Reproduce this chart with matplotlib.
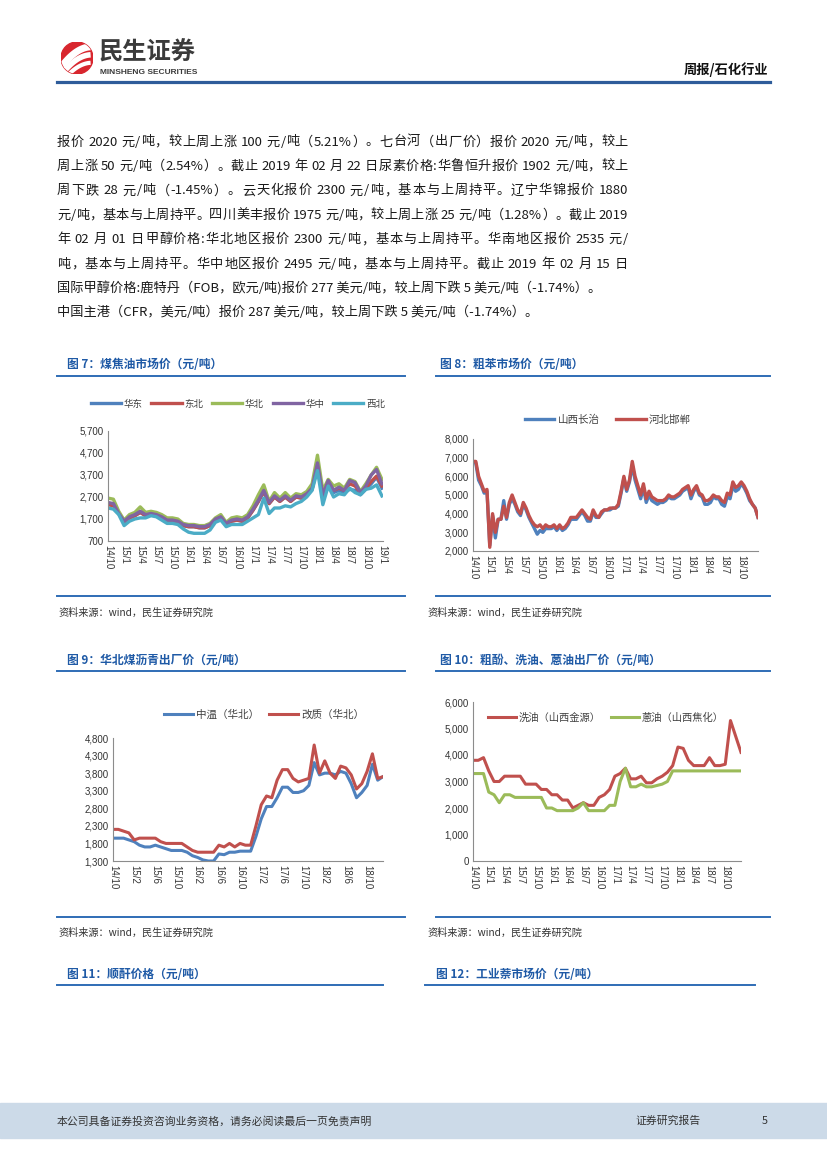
import matplotlib

matplotlib.use("Agg")
import re
import matplotlib.pyplot as plt
import numpy as np
from matplotlib.patches import Rectangle, Circle
from matplotlib.lines import Line2D
from matplotlib.ticker import FuncFormatter

plt.rcParams["font.family"] = ["Noto Sans CJK SC", "DejaVu Sans"]

# ---------------- data ----------------
# fig 7: coal tar market price, monthly from 14/10
tar_labels = ["华东", "东北", "华北", "华中", "西北"]
tar_huadong = [2400, 2350, 1950, 1550, 1750, 1850, 2000, 1850, 1900, 1850, 1750, 1600, 1600,
               1550, 1400, 1350, 1350, 1300, 1300, 1400, 1650, 1750, 1450, 1600, 1650, 1600,
               1750, 2100, 2500, 2950, 2400, 2700, 2500, 2700, 2500, 2700, 2650, 2800, 3050,
               4200, 2700, 3400, 2900, 3000, 2900, 3050, 3000, 2800, 3050, 3300, 3600, 3100]
tar_dongbei = [2350, 2300, 1950, 1550, 1750, 1850, 2000, 1850, 1900, 1850, 1750, 1600, 1600,
               1550, 1400, 1350, 1350, 1300, 1300, 1400, 1650, 1750, 1450, 1600, 1650, 1600,
               1750, 2100, 2500, 2950, 2400, 2700, 2500, 2700, 2500, 2700, 2650, 2800, 3050,
               4100, 2800, 3400, 3000, 3100, 3000, 3300, 3200, 2900, 3100, 3400, 3650, 3200]
tar_huabei = [2650, 2600, 2050, 1650, 1900, 2000, 2250, 2000, 2050, 2000, 1900, 1750, 1750,
              1700, 1500, 1450, 1450, 1400, 1400, 1500, 1750, 1900, 1550, 1750, 1800, 1750,
              1900, 2300, 2800, 3250, 2500, 2900, 2650, 2900, 2650, 2850, 2800, 2950, 3300,
              4600, 3000, 3500, 3200, 3300, 3100, 3500, 3400, 2950, 3300, 3700, 4050, 3500]
tar_huazhong = [2450, 2400, 1950, 1600, 1800, 1900, 2050, 1900, 1950, 1900, 1800, 1650, 1650,
                1600, 1450, 1400, 1400, 1350, 1350, 1450, 1700, 1800, 1500, 1650, 1700, 1650,
                1800, 2150, 2550, 3000, 2450, 2750, 2550, 2750, 2550, 2750, 2700, 2850, 3100,
                4250, 2800, 3450, 3000, 3150, 3000, 3450, 3350, 2900, 3200, 3700, 3950, 3300]
tar_xibei = [2200, 2150, 1900, 1400, 1600, 1700, 1750, 1750, 1850, 1800, 1650, 1500, 1500,
             1450, 1250, 1100, 1050, 1050, 1050, 1200, 1550, 1650, 1350, 1450, 1450, 1450,
             1600, 1750, 1900, 2650, 1950, 2200, 2200, 2300, 2250, 2400, 2500, 2700, 3000,
             3900, 2350, 3200, 2700, 2850, 2800, 3100, 2900, 2800, 3050, 3100, 3250, 2750]
tar_ticks = ["14/10", "15/1", "15/4", "15/7", "15/10", "16/1", "16/4", "16/7", "16/10",
             "17/1", "17/4", "17/7", "17/10", "18/1", "18/4", "18/7", "18/10", "19/1"]

# fig 8: crude benzene, semi-monthly from 14/10
benz_labels = ["山西长治", "河北邯郸"]
benz_changzhi = [6800, 6700, 5800, 5500, 5100, 5200, 2300, 3900, 2700, 3700,
                 3700, 4700, 3700, 4500, 4800, 4500, 4100, 3900, 4500, 4200,
                 3800, 3500, 3200, 2900, 3100, 3000, 3200, 3200, 3200, 3300,
                 3100, 3300, 3100, 3200, 3400, 3700, 3700, 3700, 3900, 4100,
                 3900, 3600, 3600, 4100, 3800, 3800, 4000, 4200, 4200, 4200,
                 4300, 4300, 4400, 5100, 5900, 5200, 5700, 6600, 5800, 5300,
                 4800, 5400, 4600, 5000, 4700, 4600, 4500, 4600, 4600, 4700,
                 4900, 4800, 4800, 4900, 5000, 5200, 5300, 5400, 4800, 5200,
                 5400, 5000, 4900, 4500, 4500, 4600, 4900, 4800, 4800, 4500,
                 4400, 4900, 4800, 5500, 5200, 5300, 5600, 5400, 5100, 4700,
                 4500, 4300, 3800]
benz_handan = [6800, 6800, 6000, 5600, 5200, 5300, 2200, 4000, 3000, 3700,
               3700, 4400, 3800, 4600, 5000, 4600, 4200, 4000, 4600, 4300,
               3900, 3600, 3400, 3300, 3400, 3200, 3400, 3300, 3300, 3400,
               3200, 3400, 3200, 3300, 3500, 3800, 3800, 3800, 4000, 4200,
               4000, 3800, 3700, 4200, 3900, 3800, 4100, 4200, 4200, 4300,
               4300, 4300, 4500, 5200, 6000, 5300, 5800, 6800, 6000, 5500,
               5000, 5600, 4800, 5200, 4900, 4800, 4700, 4700, 4700, 4800,
               5000, 4900, 4900, 5000, 5100, 5300, 5400, 5500, 5000, 5300,
               5500, 5100, 5000, 4700, 4700, 4800, 5000, 4900, 4900, 4700,
               4600, 5100, 5000, 5700, 5400, 5500, 5700, 5500, 5200, 4800,
               4500, 4300, 3800]
benz_ticks = ["14/10", "15/1", "15/4", "15/7", "15/10", "16/1", "16/4", "16/7", "16/10",
              "17/1", "17/4", "17/7", "17/10", "18/1", "18/4", "18/7", "18/10"]

# fig 9: coal pitch, monthly from 14/10
pitch_labels = ["中温（华北）", "改质（华北）"]
pitch_zhongwen = [1950, 1950, 1950, 1900, 1850, 1750, 1700, 1700, 1750, 1700, 1650, 1600, 1600,
                  1600, 1550, 1450, 1400, 1330, 1300, 1300, 1500, 1480, 1550, 1550, 1580, 1580,
                  1580, 2000, 2500, 2850, 2850, 3100, 3400, 3400, 3250, 3250, 3300, 3450, 4100,
                  3750, 3800, 3800, 3750, 3850, 3800, 3500, 3100, 3250, 3450, 4050, 3600, 3700]
pitch_gaizhi = [2200, 2200, 2150, 2100, 1900, 1950, 1950, 1950, 1950, 1850, 1800, 1800, 1800,
                1800, 1700, 1600, 1550, 1550, 1550, 1550, 1750, 1700, 1800, 1700, 1800, 1750,
                1750, 2300, 2900, 3150, 3100, 3600, 3900, 3900, 3650, 3550, 3600, 3650, 4600,
                3800, 4150, 3800, 3650, 4000, 3950, 3750, 3350, 3500, 3850, 4350, 3650, 3700]
pitch_ticks = ["14/10", "15/2", "15/6", "15/10", "16/2", "16/6", "16/10",
               "17/2", "17/6", "17/10", "18/2", "18/6", "18/10"]

# fig 10: wash oil / anthracene oil, monthly from 14/10
oil_labels = ["洗油（山西金源）", "蒽油（山西焦化）"]
oil_xiyou = [3800, 3800, 3900, 3400, 3000, 3000, 3200, 3200, 3200, 3200, 2900, 2900, 2900,
             2700, 2700, 2500, 2500, 2300, 2300, 2000, 2100, 2200, 2100, 2100, 2400, 2500,
             2700, 3200, 3300, 3500, 3100, 3100, 3200, 2950, 2950, 3100, 3200, 3350, 3600,
             4300, 4250, 3800, 3600, 3600, 3600, 3900, 3600, 3600, 3650, 5300, 4700, 4100]
oil_anyou = [3300, 3300, 3300, 2600, 2500, 2200, 2500, 2500, 2400, 2400, 2400, 2400, 2400,
             2400, 2000, 2000, 1900, 1900, 1900, 1900, 2000, 2200, 1900, 1900, 1900, 1900,
             2100, 2100, 3000, 3500, 2800, 2800, 2900, 2800, 2800, 2850, 2900, 3000, 3400,
             3400, 3400, 3400, 3400, 3400, 3400, 3400, 3400, 3400, 3400, 3400, 3400, 3400]
oil_ticks = benz_ticks

para_lines = [
    "报价 2020 元/吨，较上周上涨 100 元/吨（5.21%）。七台河（出厂价）报价 2020 元/吨，较上",
    "周上涨 50 元/吨（2.54%）。截止 2019 年 02 月 22 日尿素价格:华鲁恒升报价 1902 元/吨，较上",
    "周下跌 28 元/吨（-1.45%）。云天化报价 2300 元/吨，基本与上周持平。辽宁华锦报价 1880",
    "元/吨，基本与上周持平。四川美丰报价 1975 元/吨，较上周上涨 25 元/吨（1.28%）。截止 2019",
    "年 02 月 01 日甲醇价格:华北地区报价 2300 元/吨，基本与上周持平。华南地区报价 2535 元/",
    "吨，基本与上周持平。华中地区报价 2495 元/吨，基本与上周持平。截止 2019 年 02 月 15 日",
    "国际甲醇价格:鹿特丹（FOB，欧元/吨)报价 277 美元/吨，较上周下跌 5 美元/吨（-1.74%）。",
    "中国主港（CFR，美元/吨）报价 287 美元/吨，较上周下跌 5 美元/吨（-1.74%）。",
]

BLUE = "#4F81BD"
RED = "#C0504D"
GREEN = "#9BBB59"
PURPLE = "#8064A2"
CYAN = "#4BACC6"
TITLE_C = "#1F5AA6"
RULE_C = "#2F6DB5"

W, H = 827, 1169
fig = plt.figure(figsize=(8.27, 11.69), dpi=100)
renderer = fig.canvas.get_renderer()


def fx(x):
    return x / W


def fy(y):
    return 1 - y / H


def box(l, t, r, b):
    return [l / W, 1 - b / H, (r - l) / W, (b - t) / H]


def hline(x0, x1, y, color=RULE_C, lw=1.4):
    fig.add_artist(Line2D([fx(x0), fx(x1)], [fy(y), fy(y)], color=color, lw=lw,
                          transform=fig.transFigure))


def advance(s, size):
    # width of s measured between two bars, so spaces count
    t = fig.text(0, 0, "|" + s + "|", fontsize=size)
    w = t.get_window_extent(renderer).width
    t.remove()
    t = fig.text(0, 0, "||", fontsize=size)
    w0 = t.get_window_extent(renderer).width
    t.remove()
    return w - w0


def para_line(y, s, x0, x1, size, justify):
    if not justify:
        fig.text(fx(x0), fy(y), s, fontsize=size, color="#1a1a1a", ha="left", va="center")
        return
    toks = re.findall(r"[A-Za-z0-9.%\-]+|.", s)
    natural = advance(s, size)
    extra = (x1 - x0 - natural) / (len(toks) - 1)
    pre = ""
    for j, tok in enumerate(toks):
        if tok.strip():
            xpos = x0 + advance(pre, size) + j * extra
            fig.text(fx(xpos), fy(y), tok, fontsize=size, color="#1a1a1a",
                     ha="left", va="center")
        pre += tok


def style_ax(ax, ylo, yhi, ystep, xmax, tick_step, ticks):
    for s in ["top", "right"]:
        ax.spines[s].set_visible(False)
    for s in ["left", "bottom"]:
        ax.spines[s].set_color("#8c8c8c")
        ax.spines[s].set_linewidth(0.8)
    ax.set_ylim(ylo, yhi)
    ax.set_yticks(np.arange(ylo, yhi + 1, ystep))
    ax.yaxis.set_major_formatter(FuncFormatter(lambda v, p: f"{v:,.0f}"))
    ax.set_xlim(0, xmax)
    ax.set_xticks(np.arange(len(ticks)) * tick_step)
    ax.set_xticklabels(ticks, rotation=-90)
    ax.tick_params(length=0, labelsize=7, colors="#333333", pad=3)
    for t in ax.get_xticklabels() + ax.get_yticklabels():
        t.set_family(["Liberation Sans", "DejaVu Sans"])


def legend(ax, cx, cy, size, hl, cs):
    ax.legend(loc="center", bbox_to_anchor=(fx(cx), fy(cy)), bbox_transform=fig.transFigure,
              ncol=5, frameon=False, fontsize=size, handlelength=hl, columnspacing=cs,
              handletextpad=0.3, labelcolor="#404040", borderpad=0)


# ---------------- header ----------------
lax = fig.add_axes(box(61, 42, 93, 74))
lax.set_xlim(-1, 1)
lax.set_ylim(-1, 1)
lax.set_aspect("equal")
lax.axis("off")
circ = Circle((0, 0), 1, color="#D8262E")
lax.add_patch(circ)
for off, w in [(0.55, 5), (0.05, 4), (-0.45, 3)]:
    xs = np.linspace(-1, 1, 40)
    ys = off - 0.25 + 0.75 * xs - 0.35 * xs ** 2
    ln, = lax.plot(xs - 0.15, ys, color="white", lw=w, solid_capstyle="butt")
    ln.set_clip_path(circ)

fig.text(fx(99), fy(53), "民生证券", fontsize=17.5, weight="bold", color="#3b3b3b",
         ha="left", va="center")
fig.text(fx(100), fy(72), "MINSHENG SECURITIES", fontsize=6, weight="bold", color="#3b3b3b",
         ha="left", va="center", family=["Liberation Sans", "DejaVu Sans"])
fig.text(fx(768), fy(70), "周报/石化行业", fontsize=9.5, weight="bold", color="#111111",
         ha="right", va="center")
hline(57, 770, 82, color="#2E5C9A", lw=2.3)

# ---------------- paragraph ----------------
for i, s in enumerate(para_lines):
    para_line(142 + i * 24.4, s, 57, 628, 9.5, i < 6)

# ---------------- titles & rules ----------------
fig.text(fx(67), fy(365), "图 7：煤焦油市场价（元/吨）", fontsize=8.5, weight="bold",
         color=TITLE_C, va="center")
fig.text(fx(440), fy(365), "图 8：粗苯市场价（元/吨）", fontsize=8.5, weight="bold",
         color=TITLE_C, va="center")
hline(57, 405, 376)
hline(436, 770, 376)
hline(57, 405, 596)
hline(436, 770, 596)
fig.text(fx(58), fy(613), "资料来源：wind，民生证券研究院", fontsize=7.3, color="#333333",
         va="center")
fig.text(fx(427), fy(613), "资料来源：wind，民生证券研究院", fontsize=7.3, color="#333333",
         va="center")

fig.text(fx(67), fy(661), "图 9：华北煤沥青出厂价（元/吨）", fontsize=8.5, weight="bold",
         color=TITLE_C, va="center")
fig.text(fx(440), fy(661), "图 10：粗酚、洗油、蒽油出厂价（元/吨）", fontsize=8.5,
         weight="bold", color=TITLE_C, va="center")
hline(57, 405, 671)
hline(436, 770, 671)
hline(57, 405, 917)
hline(436, 770, 917)
fig.text(fx(58), fy(933), "资料来源：wind，民生证券研究院", fontsize=7.3, color="#333333",
         va="center")
fig.text(fx(427), fy(933), "资料来源：wind，民生证券研究院", fontsize=7.3, color="#333333",
         va="center")

fig.text(fx(67), fy(974), "图 11：顺酐价格（元/吨）", fontsize=8.5, weight="bold",
         color=TITLE_C, va="center")
fig.text(fx(436), fy(974), "图 12：工业萘市场价（元/吨）", fontsize=8.5, weight="bold",
         color=TITLE_C, va="center")
hline(57, 383, 985)
hline(425, 755, 985)

# ---------------- fig 7 ----------------
ax7 = fig.add_axes(box(108, 431, 383, 541))
x7 = np.arange(len(tar_huadong))
for vals, c, lab in zip([tar_huadong, tar_dongbei, tar_huabei, tar_huazhong, tar_xibei],
                        [BLUE, RED, GREEN, PURPLE, CYAN], tar_labels):
    ax7.plot(x7, vals, color=c, lw=2.4, label=lab)
style_ax(ax7, 700, 5700, 1000, 51.2, 3, tar_ticks)
legend(ax7, 238, 404, 6.8, 3.2, 0.9)

# ---------------- fig 8 ----------------
ax8 = fig.add_axes(box(473, 439, 758, 551))
x8 = np.arange(len(benz_handan)) / 2
ax8.plot(x8, benz_changzhi, color=BLUE, lw=2.4, label=benz_labels[0])
ax8.plot(x8, benz_handan, color=RED, lw=2.4, label=benz_labels[1])
style_ax(ax8, 2000, 8000, 1000, 51, 3, benz_ticks)
legend(ax8, 608, 420, 7.6, 2.8, 1.6)

# ---------------- fig 9 ----------------
ax9 = fig.add_axes(box(113, 738, 383, 861))
x9 = np.arange(len(pitch_zhongwen))
ax9.plot(x9, pitch_zhongwen, color=BLUE, lw=2.2, label=pitch_labels[0])
ax9.plot(x9, pitch_gaizhi, color=RED, lw=2.2, label=pitch_labels[1])
style_ax(ax9, 1300, 4800, 500, 51, 4, pitch_ticks)
legend(ax9, 264, 715, 7.6, 2.7, 1.0)

# ---------------- fig 10 ----------------
ax10 = fig.add_axes(box(473, 702, 741, 861))
x10 = np.arange(len(oil_xiyou))
ax10.plot(x10, oil_xiyou, color=RED, lw=2.2, label=oil_labels[0])
ax10.plot(x10, oil_anyou, color=GREEN, lw=2.2, label=oil_labels[1])
style_ax(ax10, 0, 6000, 1000, 51, 3, oil_ticks)
legend(ax10, 606, 718, 7.4, 2.7, 1.0)

# ---------------- footer ----------------
fig.add_artist(Rectangle((0, fy(1138)), 1, (1138 - 1103) / H, transform=fig.transFigure,
                         color="#CCDAE8", zorder=0))
fig.text(fx(57), fy(1121), "本公司具备证券投资咨询业务资格，请务必阅读最后一页免责声明",
         fontsize=7.8, color="#333333", va="center")
fig.text(fx(635), fy(1121), "证券研究报告", fontsize=7.8, color="#333333", va="center")
fig.text(fx(762), fy(1121), "5", fontsize=7.8, color="#333333", va="center")

fig.savefig("out.png", dpi=100)
